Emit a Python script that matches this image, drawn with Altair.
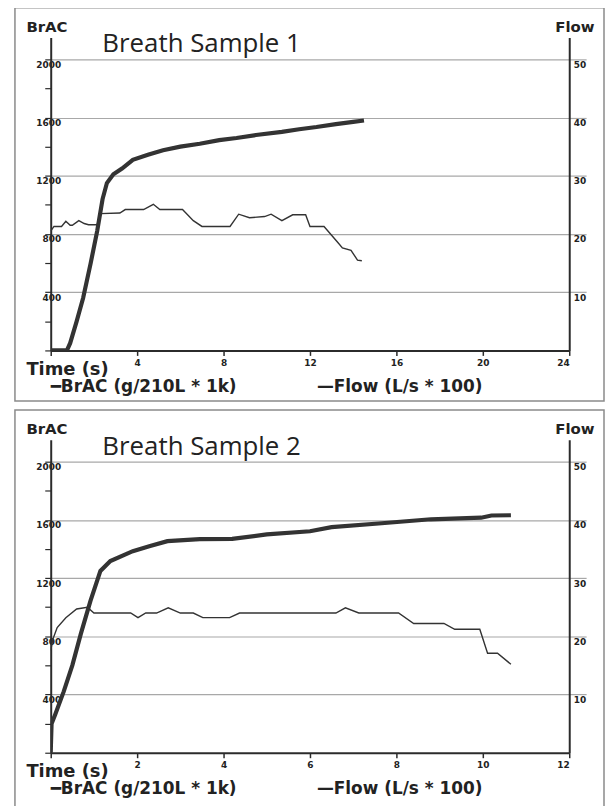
import altair as alt
import pandas as pd

# ---------------- Breath Sample 1 ----------------
brac1_t = [0, 0.75, 0.9, 1.2, 1.5, 1.85, 2.15, 2.4, 2.6, 2.9, 3.3, 3.8, 4.5, 5.2, 6.0,
           6.9, 7.8, 8.6, 9.5, 10.7, 11.5, 12.3, 13.2, 14.0, 14.5]
brac1_v = [0, 0, 50, 200, 360, 600, 820, 1040, 1150, 1210, 1250, 1310, 1345, 1375, 1400,
           1420, 1445, 1460, 1480, 1502, 1520, 1535, 1555, 1570, 1580]

flow1_t = [0.0, 0.15, 0.5, 0.7, 0.9, 1.0, 1.3, 1.55, 1.75, 2.15, 2.3, 3.2, 3.45, 4.3, 4.75,
           5.05, 6.1, 6.6, 7.0, 8.3, 8.7, 9.2, 9.9, 10.2, 10.7, 11.2, 11.8, 12.0, 12.65,
           13.3, 13.5, 13.9, 14.2, 14.4]
flow1_v = [20.5, 21.3, 21.3, 22.2, 21.5, 21.5, 22.3, 21.8, 21.6, 21.6, 23.5, 23.6, 24.2, 24.2, 25.1,
           24.2, 24.2, 22.3, 21.3, 21.3, 23.4, 22.8, 23.0, 23.4, 22.3, 23.3, 23.3, 21.3, 21.3,
           18.5, 17.6, 17.2, 15.5, 15.4]

# ---------------- Breath Sample 2 ----------------
brac2_t = [0, 0.02, 0.1, 0.3, 0.5, 0.7, 0.92, 1.15, 1.38, 1.9, 2.3, 2.7, 3.45, 4.2, 5.0,
           6.0, 6.5, 7.66, 8.8, 9.96, 10.2, 10.65]
brac2_v = [0, 200, 260, 420, 600, 820, 1044, 1249, 1317, 1385, 1420, 1454, 1468, 1470, 1500,
           1522, 1550, 1577, 1604, 1615, 1630, 1632]

flow2_t = [0.0, 0.05, 0.15, 0.35, 0.6, 0.85, 1.0, 1.85, 2.02, 2.2, 2.45, 2.72, 3.0, 3.3, 3.52,
           4.14, 4.37, 6.6, 6.82, 7.13, 8.05, 8.4, 9.1, 9.35, 9.93, 10.11, 10.34, 10.65]
flow2_v = [17.6, 19.5, 21.5, 23.2, 24.7, 25.0, 24.0, 24.0, 23.2, 24.0, 24.0, 24.9, 24.0, 24.0, 23.2,
           23.2, 24.0, 24.0, 24.9, 24.0, 24.0, 22.2, 22.2, 21.2, 21.2, 17.1, 17.1, 15.2]

titles = ["Breath Sample 1", "Breath Sample 2"]
x_max = [24, 12]
x_step = [4, 2]
brac_ticks = list(range(0, 2001, 200))
flow_ticks = [10, 20, 30, 40, 50]
legend_brac = "\u2501BrAC (g/210L * 1k)"
legend_flow = "\u2014Flow (L/s * 100)"

W, H = 522, 315
Y_MAX = 2150
DARK = "#2b2b2b"
GRID = "#a8a8a8"
LBL = dict(labelFont="DejaVu Sans", labelFontSize=9, labelFontWeight="bold", labelColor="#222")


def panel(i, bt, bv, ft, fv, border_bottom):
    xmax = x_max[i]
    xs = alt.Scale(domain=[0, xmax], nice=False)
    bdf = pd.DataFrame({"t": bt, "v": bv})
    fdf = pd.DataFrame({"t": ft, "v": fv})

    border = alt.Chart(alt.Data(values=[{}])).mark_rect(
        fill=None, filled=False, stroke="#8a8a8a", strokeWidth=1.5
    ).encode(x=alt.value(-36), x2=alt.value(557), y=alt.value(-30), y2=alt.value(border_bottom))

    brac = alt.Chart(bdf).mark_line(color="#333333", strokeWidth=4.2, clip=True).encode(
        x=alt.X("t:Q", scale=xs, axis=alt.Axis(
            values=list(range(0, xmax + 1, x_step[i])),
            labelExpr="datum.value == 0 ? '' : datum.label",
            grid=False, domainColor=DARK, domainWidth=2, tickColor=DARK, tickSize=5, tickWidth=1.5,
            labelPadding=3,
            title="Time (s)", titleX=-25, titleY=24, titleAlign="left", titleBaseline="alphabetic",
            titleFont="DejaVu Sans", titleFontSize=18, titleFontWeight="bold", titleColor="#222",
            **LBL)),
        y=alt.Y("v:Q", scale=alt.Scale(domain=[0, Y_MAX], nice=False), axis=alt.Axis(
            orient="left", values=brac_ticks, format="d",
            labelExpr="(datum.value % 400 == 0 && datum.value > 0) ? datum.label : ''",
            grid=False, domainColor=DARK, domainWidth=2, tickColor=DARK, tickSize=6, tickWidth=1.2,
            labelAlign="right", labelBaseline="top", labelPadding=-16, labelOffset=1,
            title="BrAC", titleAngle=0, titleX=-25, titleY=-6, titleAlign="left",
            titleBaseline="alphabetic", titleFont="DejaVu Sans", titleFontSize=15,
            titleFontWeight="bold", titleColor="#222",
            **LBL)),
    )

    flow = alt.Chart(fdf).mark_line(color="#333333", strokeWidth=1.4, clip=True).encode(
        x=alt.X("t:Q", scale=xs),
        y=alt.Y("v:Q", scale=alt.Scale(domain=[0, Y_MAX / 40], nice=False), axis=alt.Axis(
            orient="right", values=flow_ticks, grid=True, gridColor=GRID, gridWidth=1.2,
            domainColor=DARK, domainWidth=2, tickColor=GRID, tickSize=17, tickWidth=1.2,
            labelAlign="left", labelBaseline="top", labelPadding=-13, labelOffset=1,
            title="Flow", titleAngle=0, titleX=25, titleY=-6, titleAlign="right",
            titleBaseline="alphabetic", titleFont="DejaVu Sans", titleFontSize=15,
            titleFontWeight="bold", titleColor="#222",
            **LBL)),
    )

    title = alt.Chart(alt.Data(values=[{"s": titles[i]}])).mark_text(
        font="Open Sans", fontSize=26, color="#222", align="left", baseline="alphabetic"
    ).encode(x=alt.value(52), y=alt.value(15), text="s:N")

    leg = pd.DataFrame({"s": [legend_brac, legend_flow], "px": [0, 268]})
    legend = alt.Chart(leg).mark_text(
        font="DejaVu Sans", fontSize=17, fontWeight="bold", color="#222", align="left",
        baseline="alphabetic"
    ).encode(x=alt.X("px:Q", scale=None), y=alt.value(357), text="s:N")

    return alt.layer(border, brac, flow, title, legend).resolve_scale(y="independent").properties(
        width=W, height=H)


p1 = panel(0, brac1_t, brac1_v, flow1_t, flow1_v, 366)
p2 = panel(1, brac2_t, brac2_v, flow2_t, flow2_v, 380)

chart = alt.vconcat(p1, p2, spacing=7).properties(
    padding={"left": 6, "top": -4, "right": 0, "bottom": 0}, background="white"
).configure_view(stroke=None)

chart.save("out.html", embed_options={"renderer": "svg", "actions": False})
